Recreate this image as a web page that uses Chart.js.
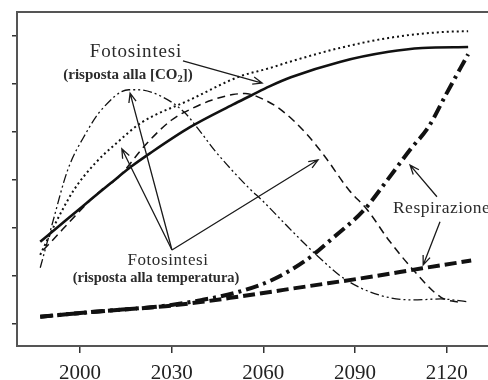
<!DOCTYPE html>
<html>
<head>
<meta charset="utf-8">
<script src="https://cdn.jsdelivr.net/npm/chart.js@4/dist/chart.umd.min.js"></script>
<style>
  html, body { margin: 0; padding: 0; background: #fff; }
  #wrap { width: 488px; height: 380px; }
</style>
</head>
<body>
<div id="wrap"><canvas id="grafico" width="488" height="380"></canvas></div>
<script>
// assi
const tickAnni = [2000, 2030, 2060, 2090, 2120];
const tickValori = [1, 2, 3, 4, 5, 6, 7];

// Fotosintesi, risposta alla CO2 (linea continua)
const co2AnniA = [1987, 1995, 2002, 2010, 2017, 2023, 2036, 2050, 2056, 2062, 2069, 2085, 2101, 2112, 2127];
const co2ValA  = [2.71, 3.14, 3.51, 3.93, 4.29, 4.56, 5.10, 5.57, 5.76, 5.95, 6.14, 6.46, 6.67, 6.75, 6.77];

// Fotosintesi, risposta alla CO2 (punteggiata)
const co2AnniB = [1987, 1992, 1998, 2005, 2012, 2020, 2036, 2052, 2062, 2069, 2085, 2101, 2118, 2127];
const co2ValB  = [2.44, 3.10, 3.79, 4.35, 4.77, 5.19, 5.67, 6.15, 6.33, 6.47, 6.75, 6.96, 7.08, 7.10];

// Fotosintesi, risposta alla temperatura (tratto-punto-punto)
const tempAnniA = [1987, 1991, 1996, 2002, 2007, 2016, 2019, 2027, 2034, 2039, 2044, 2055, 2060, 2069, 2078, 2087, 2098, 2109, 2118, 2127];
const tempValA  = [2.17, 3.10, 4.21, 4.98, 5.46, 5.88, 5.88, 5.73, 5.42, 5.04, 4.62, 3.85, 3.55, 2.96, 2.40, 1.92, 1.60, 1.50, 1.52, 1.46];

// Fotosintesi, risposta alla temperatura (tratteggiata)
const tempAnniB = [1988, 2007, 2012, 2022, 2030, 2037, 2043, 2050, 2054, 2060, 2066, 2074, 2080, 2088, 2094, 2101, 2109, 2118, 2125];
const tempValB  = [2.54, 3.79, 4.02, 4.77, 5.25, 5.50, 5.66, 5.78, 5.80, 5.68, 5.45, 4.97, 4.50, 3.79, 3.38, 2.75, 2.13, 1.56, 1.44];

// Respirazione (tratteggio spesso)
const respAnniA = [1987, 2006, 2028, 2040, 2052, 2074, 2096, 2112, 2128];
const respValA  = [1.15, 1.26, 1.37, 1.46, 1.57, 1.78, 1.99, 2.16, 2.32];

// Respirazione (tratto-punto spesso)
const respAnniB = [1987, 2006, 2028, 2040, 2052, 2063, 2074, 2082, 2093, 2100, 2108, 2114, 2120, 2127];
const respValB  = [1.15, 1.26, 1.38, 1.50, 1.67, 1.92, 2.33, 2.75, 3.38, 3.95, 4.63, 5.10, 5.81, 6.62];

// testi e frecce, in coordinate (anno, valore)
const etichette = [
  { testo: "Fotosintesi", anno: 2018.3, val: 6.67, font: "19px 'Liberation Serif'", sp: "0.8px", align: "center" },
  { testo: "(risposta alla [CO", sub: "2", coda: "])", anno: 2015.7, val: 6.19, font: "bold 15px 'Liberation Serif'", sp: "0px", align: "center" },
  { testo: "Fotosintesi", anno: 2028.8, val: 2.33, font: "17px 'Liberation Serif'", sp: "0.6px", align: "center" },
  { testo: "(risposta alla temperatura)", anno: 2024.9, val: 1.96, font: "bold 14.5px 'Liberation Serif'", sp: "0px", align: "center" },
  { testo: "Respirazione", anno: 2102.4, val: 3.40, font: "17.5px 'Liberation Serif'", sp: "0.5px", align: "left" }
];
const frecce = [
  [2033.7, 6.48, 2059.6, 6.02],
  [2030.1, 2.54, 2016.4, 5.81],
  [2030.1, 2.54, 2013.7, 4.65],
  [2030.1, 2.54, 2077.9, 4.42],
  [2116.8, 3.65, 2108.0, 4.31],
  [2117.8, 3.13, 2112.3, 2.23]
];

function punti(anni, valori) {
  return anni.map((a, i) => ({ x: a, y: valori[i] }));
}

function serie(anni, valori, spessore, dash) {
  return {
    data: punti(anni, valori),
    borderColor: "#111",
    borderWidth: spessore,
    borderDash: dash,
    pointRadius: 0,
    fill: false,
    cubicInterpolationMode: "monotone"
  };
}

const annotazioni = {
  id: "annotazioni",
  afterDatasetsDraw(chart) {
    const c = chart.ctx;
    const sx = chart.scales.x, sy = chart.scales.y;
    const area = chart.chartArea;
    c.save();
    // bordo superiore
    c.strokeStyle = "#555";
    c.lineWidth = 2;
    c.beginPath();
    c.moveTo(area.left - 1, area.top);
    c.lineTo(area.right, area.top);
    c.stroke();

    c.fillStyle = "#2b2b2b";
    c.textBaseline = "middle";
    etichette.forEach((e) => {
      c.font = e.font;
      c.letterSpacing = e.sp;
      let x = sx.getPixelForValue(e.anno);
      const y = sy.getPixelForValue(e.val);
      if (e.sub) {
        const w1 = c.measureText(e.testo).width;
        const fs = parseFloat(e.font.match(/([\d.]+)px/)[1]);
        const subFont = e.font.replace(/[\d.]+px/, (fs * 0.7).toFixed(1) + "px");
        c.font = subFont;
        const w2 = c.measureText(e.sub).width;
        c.font = e.font;
        const w3 = c.measureText(e.coda).width;
        let x0 = x - (w1 + w2 + w3) / 2;
        c.textAlign = "left";
        c.fillText(e.testo, x0, y);
        c.font = subFont;
        c.fillText(e.sub, x0 + w1, y + fs * 0.3);
        c.font = e.font;
        c.fillText(e.coda, x0 + w1 + w2, y);
      } else {
        c.textAlign = e.align;
        c.fillText(e.testo, x, y);
      }
    });
    c.letterSpacing = "0px";

    c.strokeStyle = "#1a1a1a";
    c.lineWidth = 1.3;
    frecce.forEach((f) => {
      const x1 = sx.getPixelForValue(f[0]), y1 = sy.getPixelForValue(f[1]);
      const x2 = sx.getPixelForValue(f[2]), y2 = sy.getPixelForValue(f[3]);
      const ang = Math.atan2(y2 - y1, x2 - x1);
      const len = 10, apert = 0.38;
      c.beginPath();
      c.moveTo(x1, y1);
      c.lineTo(x2, y2);
      c.moveTo(x2 - len * Math.cos(ang - apert), y2 - len * Math.sin(ang - apert));
      c.lineTo(x2, y2);
      c.lineTo(x2 - len * Math.cos(ang + apert), y2 - len * Math.sin(ang + apert));
      c.stroke();
    });
    c.restore();
  }
};

new Chart(document.getElementById("grafico").getContext("2d"), {
  type: "line",
  data: {
    datasets: [
      serie(respAnniA, respValA, 4, [12, 5]),
      serie(respAnniB, respValB, 4, [13, 5, 3, 5]),
      serie(tempAnniB, tempValB, 1.5, [8, 5]),
      serie(tempAnniA, tempValA, 1.3, [9, 3, 2, 3, 2, 3]),
      serie(co2AnniB, co2ValB, 2, [2, 3]),
      serie(co2AnniA, co2ValA, 2.6, [])
    ]
  },
  options: {
    responsive: false,
    animation: false,
    layout: { padding: { top: 12, left: 0, right: 0, bottom: 0 } },
    plugins: { legend: { display: false }, tooltip: { enabled: false } },
    scales: {
      x: {
        type: "linear",
        min: 1979.4,
        max: 2133.5,
        afterBuildTicks: (s) => { s.ticks = tickAnni.map((v) => ({ value: v })); },
        afterFit: (s) => { s.height = 34; },
        grid: { drawOnChartArea: false, drawTicks: true, tickLength: 7, color: "#333", lineWidth: 1.5 },
        border: { display: true, color: "#555", width: 2 },
        ticks: {
          padding: 8,
          color: "#222",
          font: { family: "'Liberation Serif'", size: 21 },
          maxRotation: 0,
          callback: (v) => String(v)
        }
      },
      y: {
        min: 0.54,
        max: 7.5,
        afterBuildTicks: (s) => { s.ticks = tickValori.map((v) => ({ value: v })); },
        afterFit: (s) => { s.width = 17; },
        grid: { drawOnChartArea: false, drawTicks: true, tickLength: 5, color: "#333", lineWidth: 1.5 },
        border: { display: true, color: "#555", width: 2 },
        ticks: { display: false }
      }
    }
  },
  plugins: [annotazioni]
});
</script>
</body>
</html>
